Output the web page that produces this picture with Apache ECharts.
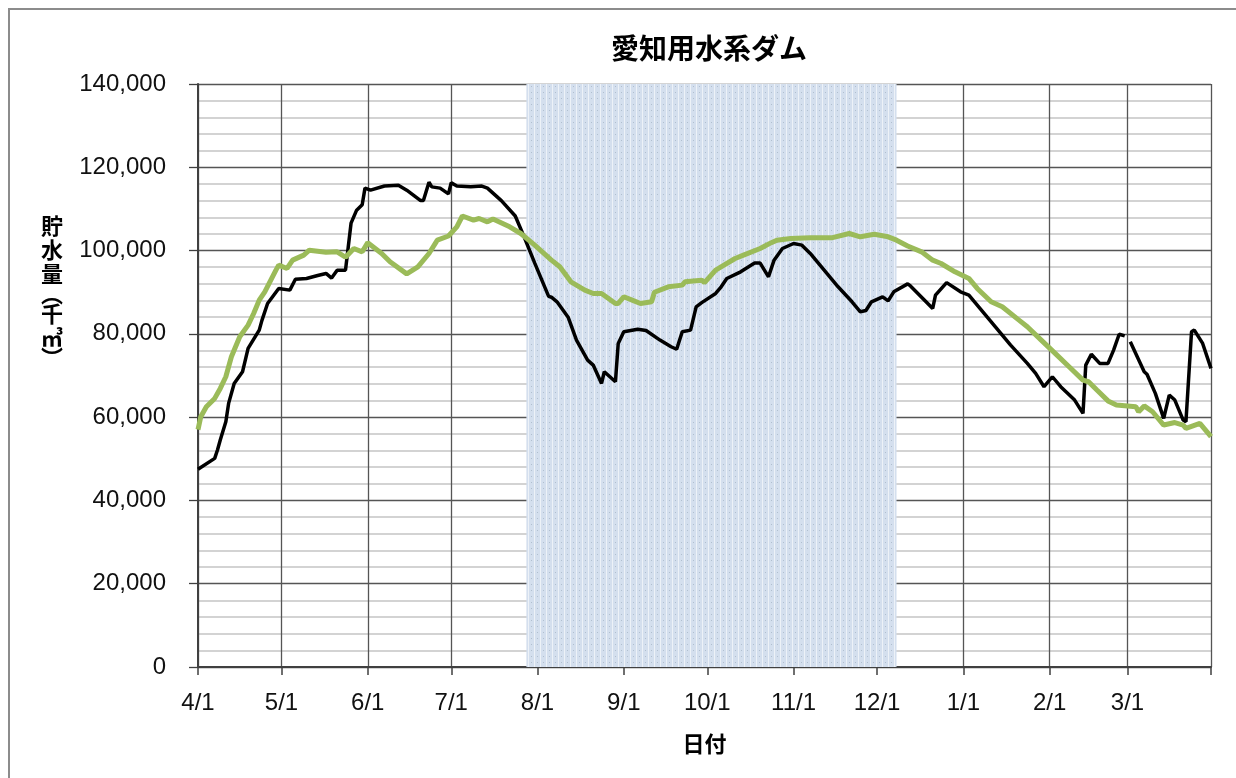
<!DOCTYPE html>
<html>
<head>
<meta charset="utf-8">
<title>愛知用水系ダム</title>
<script src="https://cdn.jsdelivr.net/npm/echarts@6/dist/echarts.min.js"></script>
<style>
  html, body { margin: 0; padding: 0; background: #fff; }
  #chart { width: 1236px; height: 778px; }
</style>
</head>
<body>
<div id="chart"></div>
<script>
// 4/1 .. 3/31 の日付カテゴリ
const monthOrder = [4, 5, 6, 7, 8, 9, 10, 11, 12, 1, 2, 3]
const monthDays = [30, 31, 30, 31, 31, 30, 31, 30, 31, 31, 28, 31]
const dates = []
monthOrder.forEach((m, i) => {
  for (let d = 1; d <= monthDays[i]; d++) dates.push(m + '/' + d)
})

const yTicks = [0, 20000, 40000, 60000, 80000, 100000, 120000, 140000]

// 黒線（今年度）
const blackDates = ['4/1', '4/7', '4/8', '4/9', '4/11', '4/12', '4/14', '4/17', '4/18', '4/19',
  '4/23', '4/24', '4/26', '4/30', '5/4', '5/6', '5/10', '5/14', '5/17', '5/19',
  '5/21', '5/24', '5/25', '5/26', '5/28', '5/30', '5/31', '6/2', '6/7', '6/12',
  '6/15', '6/20', '6/21', '6/23', '6/24', '6/27', '6/30', '7/1', '7/3', '7/8',
  '7/12', '7/14', '7/19', '7/24', '7/27', '7/31', '8/5', '8/6', '8/8', '8/12',
  '8/15', '8/19', '8/21', '8/24', '8/25', '8/29', '8/30', '9/1', '9/6', '9/9',
  '9/14', '9/18', '9/20', '9/22', '9/25', '9/27', '9/29', '10/4', '10/6', '10/8',
  '10/13', '10/18', '10/20', '10/23', '10/25', '10/28', '11/1', '11/4', '11/7', '11/12',
  '11/17', '11/22', '11/25', '11/27', '11/29', '12/3', '12/5', '12/7', '12/12', '12/13',
  '12/21', '12/22', '12/26', '12/31', '1/3', '1/12', '1/18', '1/24', '1/27', '1/30',
  '2/2', '2/5', '2/10', '2/13', '2/14', '2/16', '2/19', '2/22', '2/24', '2/26',
  '2/28', '3/1', '3/2', '3/7', '3/8', '3/11', '3/14', '3/16', '3/18', '3/21',
  '3/22', '3/24', '3/25', '3/28', '3/31']
const blackValues = [47500, 50100, 52100, 54500, 58900, 63300, 68100, 70900, 73700, 76500,
  80900, 83300, 87300, 90900, 90500, 93100, 93300, 94000, 94500, 93400,
  95300, 95300, 100900, 106600, 109700, 111000, 115000, 114500, 115500, 115700,
  114500, 112000, 112000, 116400, 115300, 115000, 113600, 116300, 115500, 115300,
  115500, 115000, 112000, 108300, 103600, 97000, 89000, 88800, 87700, 84000,
  78500, 73700, 72500, 68100, 70900, 68500, 77700, 80500, 81100, 80800,
  78500, 76900, 76300, 80500, 80900, 86500, 87500, 89700, 91300, 93300,
  94900, 97000, 97000, 93700, 97700, 100500, 101700, 101300, 99300, 95300,
  91300, 87700, 85300, 85600, 87700, 88900, 87900, 90100, 92000, 91500,
  86100, 89300, 92300, 90100, 89300, 82100, 77300, 72900, 70500, 67300,
  69700, 67300, 64100, 60900, 72500, 75100, 72900, 72900, 76100, 79900,
  79500, null, 78100, 70900, 70300, 65700, 59700, 65300, 64100, 59300,
  58900, 80500, 80900, 77700, 71700]

// 緑線（平年）
const greenDates = ['4/1', '4/2', '4/4', '4/7', '4/9', '4/11', '4/13', '4/16', '4/19', '4/21',
  '4/23', '4/25', '4/29', '4/30', '5/3', '5/5', '5/9', '5/11', '5/17', '5/21',
  '5/24', '5/27', '5/30', '6/1', '6/6', '6/9', '6/15', '6/19', '6/23', '6/26',
  '6/30', '7/3', '7/5', '7/9', '7/11', '7/14', '7/16', '7/22', '7/26', '7/31',
  '8/6', '8/9', '8/13', '8/18', '8/21', '8/24', '8/29', '8/30', '9/1', '9/4',
  '9/7', '9/11', '9/12', '9/17', '9/22', '9/23', '9/29', '9/30', '10/4', '10/7',
  '10/11', '10/14', '10/20', '10/24', '10/26', '10/31', '11/7', '11/15', '11/21', '11/25',
  '11/30', '12/5', '12/8', '12/12', '12/17', '12/21', '12/24', '12/29', '1/3', '1/6',
  '1/11', '1/15', '1/21', '1/24', '1/29', '2/3', '2/8', '2/13', '2/15', '2/18',
  '2/22', '2/25', '3/4', '3/5', '3/7', '3/10', '3/14', '3/18', '3/21', '3/22',
  '3/27', '3/31']
const greenValues = [57000, 60100, 62500, 64500, 66900, 69700, 74500, 79300, 82100, 84900,
  88100, 90100, 95300, 96500, 95700, 97700, 98900, 100100, 99600, 99700,
  98400, 100500, 99700, 101900, 99300, 97300, 94400, 96100, 99300, 102500,
  103500, 105700, 108300, 107300, 107700, 106900, 107600, 105700, 104100, 101300,
  97700, 96100, 92500, 90500, 89700, 89700, 87300, 87300, 88900, 88100,
  87300, 87700, 90000, 91300, 91700, 92500, 92900, 92300, 95300, 96500,
  98100, 98900, 100500, 101900, 102500, 102900, 103100, 103100, 104100, 103300,
  103900, 103300, 102500, 101100, 99700, 97700, 96900, 94900, 93300, 90900,
  87700, 86500, 83300, 81700, 78500, 75300, 72100, 68900, 68500, 66500,
  63900, 62900, 62500, 61300, 62700, 61300, 58100, 58700, 58100, 57300,
  58500, 55300]

// 網掛け期間
const shadeFrom = '7/28'
const shadeTo = '12/8'

const toPairs = (ds, vs) => ds.map((d, i) => [dates.indexOf(d), vs[i]])
const isMonthStart = (idx, val) => /\/1$/.test(val)

function makePattern() {
  const c = document.createElement('canvas')
  c.width = 6
  c.height = 6
  const g = c.getContext('2d')
  g.fillStyle = '#d4dfee'
  g.fillRect(0, 0, 6, 6)
  g.fillStyle = '#edf2f8'
  g.fillRect(0, 0, 1, 6)
  g.fillStyle = '#b0bfcf'
  g.fillRect(3, 2, 1, 1)
  return c
}

const font = '"Liberation Sans", Arial, sans-serif'
const cjk = '"Noto Sans CJK JP", sans-serif'

const chart = echarts.init(document.getElementById('chart'))
chart.setOption({
  animation: false,
  grid: { left: 198, right: 25, top: 84, bottom: 111 },
  graphic: [
    {
      type: 'rect', silent: true,
      shape: { x: 9, y: 9, width: 1300, height: 900 },
      style: { fill: 'none', stroke: '#8c8c8c', lineWidth: 2 }
    },
    {
      type: 'text', x: 709, y: 48, silent: true,
      style: {
        text: '愛知用水系ダム', font: 'bold 28px ' + cjk, fill: '#000',
        textAlign: 'center', textVerticalAlign: 'middle'
      }
    },
    {
      type: 'text', x: 52, y: 214, silent: true,
      style: {
        text: '{a|貯}\n{a|水}\n{a|量}\n{p|︵}\n{a|千}\n{a|㎥}\n{p|︶}',
        textAlign: 'center',
        rich: {
          a: { font: 'bold 22px ' + cjk, lineHeight: 24, fill: '#000', align: 'center' },
          p: { font: 'bold 22px ' + cjk, lineHeight: 16, fill: '#000', align: 'center' }
        }
      }
    }
  ],
  xAxis: {
    type: 'category',
    data: dates,
    boundaryGap: false,
    name: '日付',
    nameLocation: 'middle',
    nameGap: 66,
    nameTextStyle: { fontFamily: cjk, fontWeight: 'bold', fontSize: 22, color: '#000' },
    axisLine: { lineStyle: { color: '#404040', width: 2 } },
    axisTick: {
      interval: (idx, val) => isMonthStart(idx, val) || idx === dates.length - 1,
      length: 8, lineStyle: { color: '#404040', width: 1.5 }
    },
    axisLabel: {
      interval: isMonthStart,
      fontFamily: font, fontSize: 24, color: '#111', margin: 24
    },
    splitLine: {
      show: true,
      interval: (idx, val) => isMonthStart(idx, val) || idx === dates.length - 1,
      lineStyle: { color: '#555', width: 1.3 }
    }
  },
  yAxis: {
    type: 'value',
    min: yTicks[0],
    max: yTicks[yTicks.length - 1],
    interval: 20000,
    axisLine: { show: true, lineStyle: { color: '#404040', width: 2 } },
    axisTick: { show: true, length: 9, lineStyle: { color: '#404040', width: 1.3 } },
    axisLabel: {
      fontFamily: font, fontSize: 24, color: '#111', margin: 32,
      formatter: v => v.toLocaleString('en-US')
    },
    splitLine: { lineStyle: { color: '#555', width: 1.3 } },
    minorTick: { show: false, splitNumber: 5 },
    minorSplitLine: { show: true, lineStyle: { color: '#c4c4c4', width: 1.6 } }
  },
  series: [
    {
      type: 'line',
      data: [],
      z: 1,
      silent: true,
      markArea: {
        silent: true,
        itemStyle: { color: { image: makePattern(), repeat: 'repeat' }, opacity: 1 },
        data: [[{ xAxis: shadeFrom }, { xAxis: shadeTo }]]
      }
    },
    {
      type: 'line',
      name: '今年',
      data: toPairs(blackDates, blackValues),
      showSymbol: false,
      connectNulls: false,
      z: 3,
      lineStyle: { color: '#000', width: 3.5 }
    },
    {
      type: 'line',
      name: '平年',
      data: toPairs(greenDates, greenValues),
      showSymbol: false,
      z: 4,
      lineStyle: { color: '#9bbb59', width: 5 }
    }
  ]
})
</script>
</body>
</html>
